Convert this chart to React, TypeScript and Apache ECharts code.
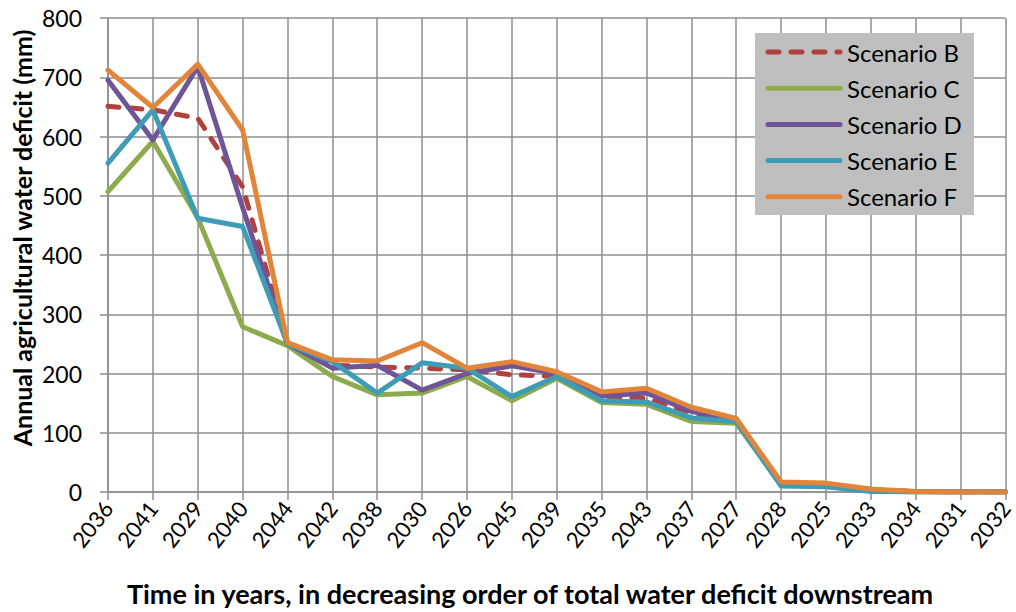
import React, { useEffect, useRef } from "react";
import * as echarts from "echarts";

const categories = ["2036","2041","2029","2040","2044","2042","2038","2030","2026","2045","2039","2035","2043","2037","2027","2028","2025","2033","2034","2031","2032"];
const scenarioB = [651, 645, 631, 515, 250, 214, 211, 209, 206, 198, 195, 161, 158, 134, 120, 15, 12, 3, 1, 0, 0];
const scenarioC = [507, 592, 463, 279, 247, 195, 164, 167, 195, 154, 192, 151, 148, 119, 116, 12, 10, 2, 0, 0, 0];
const scenarioD = [695, 594, 718, 480, 250, 209, 214, 172, 200, 213, 200, 162, 167, 136, 120, 14, 12, 3, 1, 0, 0];
const scenarioE = [555, 645, 462, 448, 250, 220, 167, 218, 209, 161, 195, 154, 152, 125, 119, 10, 9, 1, 0, 0, 0];
const scenarioF = [712, 649, 722, 611, 252, 223, 221, 252, 209, 220, 203, 169, 175, 143, 124, 17, 15, 5, 1, 0, 0];
const seriesNames = ["Scenario B", "Scenario C", "Scenario D", "Scenario E", "Scenario F"];
const colors = ["#B0413E", "#8CAB4C", "#6F5597", "#3E9CB6", "#E2853A"];
const yTitle = "Annual agricultural water deficit (mm)";
const xTitle = "Time in years, in decreasing order of total water deficit downstream";

const FONT = "Lato";
const GRID = "#8e8e8e";
const DASH = [11, 12];

export default function App() {
  const ref = useRef<HTMLDivElement>(null);
  useEffect(() => {
    if (!ref.current) return;
    const chart = echarts.init(ref.current, null, { renderer: "svg" });
    const data = [scenarioB, scenarioC, scenarioD, scenarioE, scenarioF];

    const legendItems: any[] = [
      { type: "rect", shape: { x: 755, y: 33, width: 219, height: 182 }, style: { fill: "#BFBFBF" }, z: 10 },
    ];
    seriesNames.forEach((name, i) => {
      const cy = 52 + i * 36.2;
      legendItems.push({
        type: "line",
        shape: { x1: 768, y1: cy, x2: 840, y2: cy },
        style: { stroke: colors[i], lineWidth: 5, lineCap: "round", lineDash: i === 0 ? DASH : null },
        z: 11,
      });
      legendItems.push({
        type: "text",
        x: 847,
        y: cy,
        style: { text: name, fontFamily: FONT, fontSize: 24, fill: "#000", align: "left", verticalAlign: "middle" },
        z: 11,
      });
    });

    chart.setOption({
      animation: false,
      backgroundColor: "#ffffff",
      textStyle: { fontFamily: FONT },
      grid: { left: 108, right: 8, top: 18, bottom: 120, containLabel: false },
      xAxis: {
        type: "category",
        data: categories,
        boundaryGap: false,
        axisLine: { show: true, lineStyle: { color: GRID, width: 1.5 } },
        axisTick: { show: true, length: 8, lineStyle: { color: GRID, width: 1.5 } },
        splitLine: { show: true, lineStyle: { color: GRID, width: 1.5 } },
        axisLabel: { rotate: 52, fontFamily: FONT, fontSize: 22, color: "#000", margin: 12, interval: 0 },
      },
      yAxis: {
        type: "value",
        min: 0,
        max: 800,
        interval: 100,
        axisLine: { show: true, lineStyle: { color: GRID, width: 1.5 } },
        axisTick: { show: true, length: 8, lineStyle: { color: GRID, width: 1.5 } },
        splitLine: { show: true, lineStyle: { color: GRID, width: 1.5 } },
        axisLabel: { fontFamily: FONT, fontSize: 23, color: "#000", margin: 26 },
      },
      graphic: [
        {
          type: "text",
          x: 530,
          y: 593,
          style: {
            text: xTitle,
            fontFamily: FONT,
            fontSize: 27,
            fontWeight: "bold",
            fill: "#000",
            align: "center",
            verticalAlign: "middle",
          },
        },
        {
          type: "text",
          x: 22,
          y: 238,
          rotation: Math.PI / 2,
          style: {
            text: yTitle,
            fontFamily: FONT,
            fontSize: 25,
            fontWeight: "bold",
            fill: "#000",
            align: "center",
            verticalAlign: "middle",
          },
        },
        ...legendItems,
      ],
      series: seriesNames.map((name, i) => ({
        name,
        type: "line",
        data: data[i],
        showSymbol: false,
        symbol: "none",
        color: colors[i],
        lineStyle: {
          color: colors[i],
          width: 5,
          type: i === 0 ? DASH : "solid",
          cap: "round",
          join: "round",
        },
      })),
    });
    return () => chart.dispose();
  }, []);
  return <div ref={ref} style={{ width: 1016, height: 612, position: "absolute", left: 0, top: 0 }} />;
}
